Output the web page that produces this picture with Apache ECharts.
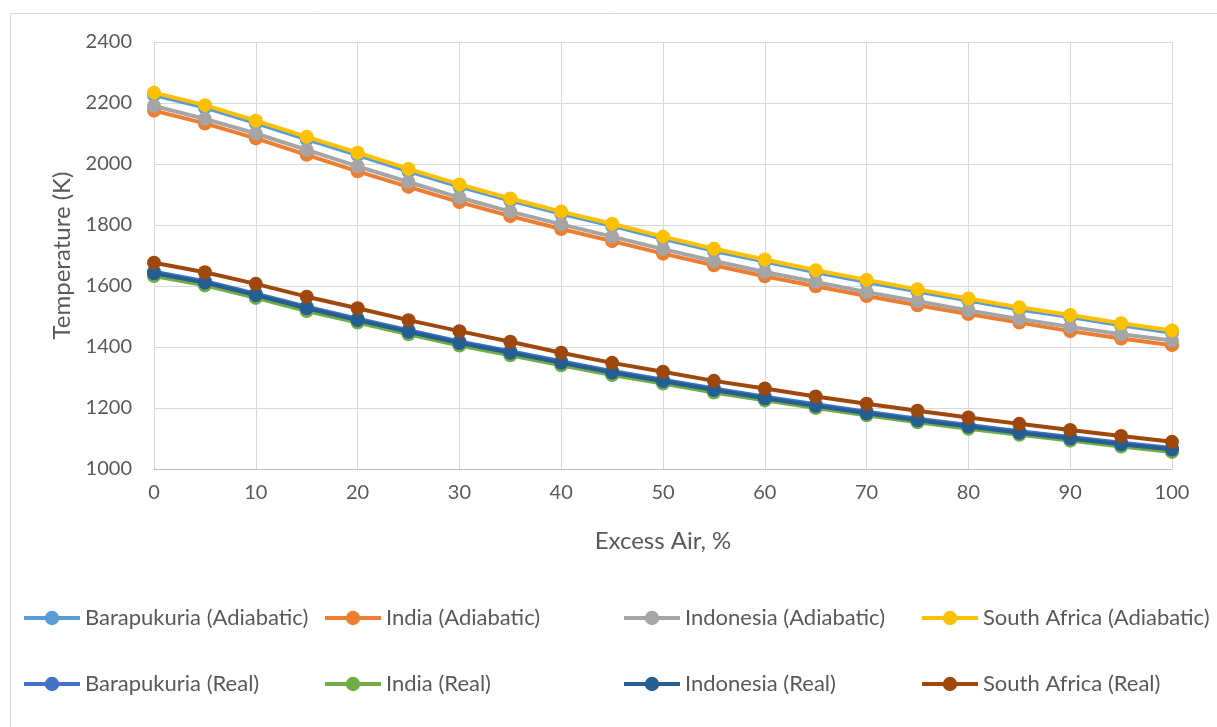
<!DOCTYPE html>
<html>
<head>
<meta charset="utf-8">
<script src="https://cdn.jsdelivr.net/npm/echarts@6/dist/echarts.min.js"></script>
<style>
  html, body { margin: 0; padding: 0; background: #ffffff; }
  #chart { width: 1217px; height: 727px; }
</style>
</head>
<body>
<div id="chart"></div>
<script>
// Excess air (%) on the x axis
const excessAir = [0, 5, 10, 15, 20, 25, 30, 35, 40, 45, 50, 55, 60, 65, 70, 75, 80, 85, 90, 95, 100];

// Flame temperature (K), adiabatic case
const barapukuriaAdiabatic = [2226, 2185, 2134, 2081, 2029, 1976, 1926, 1880, 1837, 1797, 1755, 1715, 1680, 1645, 1613, 1582, 1552, 1523, 1498, 1471, 1447];
const indiaAdiabatic       = [2175, 2133, 2084, 2030, 1976, 1925, 1875, 1829, 1787, 1747, 1706, 1668, 1632, 1599, 1567, 1537, 1508, 1480, 1452, 1428, 1406];
const indonesiaAdiabatic   = [2190, 2148, 2100, 2046, 1992, 1941, 1890, 1844, 1802, 1762, 1721, 1682, 1646, 1613, 1580, 1550, 1520, 1492, 1466, 1442, 1421];
const southAfricaAdiabatic = [2234, 2193, 2142, 2089, 2037, 1984, 1933, 1887, 1844, 1804, 1762, 1722, 1687, 1652, 1620, 1589, 1559, 1530, 1505, 1478, 1454];

// Flame temperature (K), real case
const barapukuriaReal = [1647, 1616, 1575, 1532, 1493, 1455, 1418, 1386, 1353, 1321, 1293, 1264, 1237, 1212, 1188, 1165, 1144, 1124, 1105, 1086, 1069];
const indiaReal       = [1633, 1602, 1561, 1518, 1480, 1442, 1405, 1373, 1340, 1308, 1280, 1251, 1225, 1200, 1176, 1153, 1132, 1112, 1093, 1074, 1056];
const indonesiaReal   = [1642, 1611, 1570, 1527, 1488, 1450, 1413, 1381, 1348, 1316, 1288, 1259, 1232, 1207, 1183, 1160, 1139, 1119, 1100, 1081, 1064];
const southAfricaReal = [1676, 1645, 1607, 1565, 1527, 1488, 1452, 1417, 1381, 1348, 1319, 1289, 1264, 1238, 1214, 1191, 1169, 1148, 1128, 1108, 1089];

const seriesNames = [
  'Barapukuria (Adiabatic)', 'India (Adiabatic)', 'Indonesia (Adiabatic)', 'South Africa (Adiabatic)',
  'Barapukuria (Real)', 'India (Real)', 'Indonesia (Real)', 'South Africa (Real)'
];
const seriesValues = [
  barapukuriaAdiabatic, indiaAdiabatic, indonesiaAdiabatic, southAfricaAdiabatic,
  barapukuriaReal, indiaReal, indonesiaReal, southAfricaReal
];
const seriesColors = ['#5B9BD5', '#ED7D31', '#A5A5A5', '#FFC000', '#4472C4', '#70AD47', '#255E91', '#9E480E'];

const FONT = 'Lato';
const TEXT_COLOR = '#595959';
const GRID_COLOR = '#d9d9d9';

const chart = echarts.init(document.getElementById('chart'), null, { renderer: 'canvas' });

// Legend laid out as a 4 x 2 block below the plot
const legendLeft = [22, 323, 622, 920];
const legendTop = [607, 673];
const legends = seriesNames.map((name, i) => ({
  data: [name],
  left: legendLeft[i % 4],
  top: legendTop[Math.floor(i / 4)],
  padding: 0,
  itemWidth: 56,
  itemHeight: 18,
  itemGap: 6,
  lineStyle: { width: 4 },
  textStyle: { color: TEXT_COLOR, fontFamily: FONT, fontSize: 22, padding: [0, 0, 0, 0] },
  selectedMode: false
}));

const series = seriesNames.map((name, i) => ({
  name: name,
  type: 'line',
  data: excessAir.map((x, j) => [x, seriesValues[i][j]]),
  symbol: 'circle',
  symbolSize: 14,
  lineStyle: { width: 4, color: seriesColors[i] },
  itemStyle: { color: seriesColors[i] },
  z: 2 + i,
  animation: false
}));

chart.setOption({
  backgroundColor: '#ffffff',
  animation: false,
  graphic: [{
    type: 'rect',
    shape: { x: 10.5, y: 13.5, width: 1220, height: 730 },
    style: { fill: 'none', stroke: GRID_COLOR, lineWidth: 1 },
    silent: true
  }],
  grid: { left: 154, top: 42, right: 45, bottom: 258, containLabel: false },
  legend: legends,
  xAxis: {
    type: 'value',
    min: 0, max: 100, interval: 10,
    name: 'Excess Air, %',
    nameLocation: 'middle',
    nameGap: 60,
    nameTextStyle: { color: TEXT_COLOR, fontFamily: FONT, fontSize: 24 },
    axisLine: { show: true, lineStyle: { color: '#bfbfbf', width: 1 } },
    axisTick: { show: false },
    axisLabel: { color: TEXT_COLOR, fontFamily: FONT, fontSize: 20, margin: 14 },
    splitLine: { show: true, lineStyle: { color: GRID_COLOR, width: 1 } }
  },
  yAxis: {
    type: 'value',
    min: 1000, max: 2400, interval: 200,
    name: 'Temperature (K)',
    nameLocation: 'middle',
    nameGap: 80,
    nameRotate: 90,
    nameTextStyle: { color: TEXT_COLOR, fontFamily: FONT, fontSize: 24 },
    axisLine: { show: false },
    axisTick: { show: false },
    axisLabel: {
      color: TEXT_COLOR, fontFamily: FONT, fontSize: 20, margin: 22,
      formatter: (v) => String(v)
    },
    splitLine: { show: true, lineStyle: { color: GRID_COLOR, width: 1 } }
  },
  series: series
});
</script>
</body>
</html>
